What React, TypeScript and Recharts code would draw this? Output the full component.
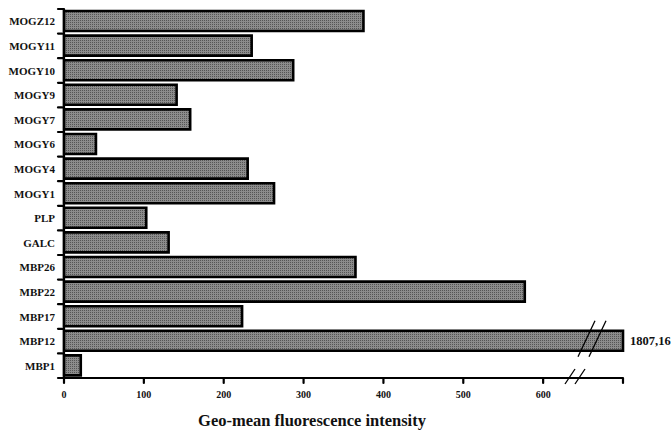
import React from "react";
import { BarChart, Bar, XAxis, YAxis, LabelList, Rectangle } from "recharts";

const categories = [
  "MOGZ12", "MOGY11", "MOGY10", "MOGY9", "MOGY7", "MOGY6", "MOGY4", "MOGY1",
  "PLP", "GALC", "MBP26", "MBP22", "MBP17", "MBP12", "MBP1",
];
const intensities = [375, 235, 287, 141, 158, 40, 230, 263, 103, 131, 365, 577, 223, 1807.16, 21];
const xTicks = [0, 100, 200, 300, 400, 500, 600, 700];
const xTickLabels = ["0", "100", "200", "300", "400", "500", "600", ""];
const AXIS_MAX = 700;

const data = categories.map((name, i) => ({
  name,
  value: intensities[i],
  shown: Math.min(intensities[i], AXIS_MAX),
  label: intensities[i] > AXIS_MAX ? intensities[i].toFixed(2).replace(".", ",").replace(/0$/, "") : "",
}));

const FONT = "'Liberation Serif', 'Times New Roman', serif";

const YTick = (props: any) => {
  const { x, y, payload, index, height } = props;
  const band = (height || 369) / categories.length;
  const top = y - band / 2;
  return (
    <g>
      <line x1={x - 6} y1={top} x2={x} y2={top} stroke="#000" strokeWidth={2.2} strokeLinecap="round" />
      {index === categories.length - 1 && (
        <line x1={x - 6} y1={y + band / 2} x2={x} y2={y + band / 2} stroke="#000" strokeWidth={2.2} strokeLinecap="round" />
      )}
      <text x={x - 9} y={y} textAnchor="end" dominantBaseline="central" fontFamily={FONT} fontWeight="bold" fontSize={11} fill="#111">
        {payload.value}
      </text>
    </g>
  );
};

const XTick = (props: any) => {
  const { x, y, payload, index } = props;
  const isEnd = payload.value === AXIS_MAX;
  return (
    <g>
      <line x1={x} y1={y} x2={x} y2={y + 5} stroke="#000" strokeWidth={2.2} strokeLinecap="round" />
      <text x={x} y={y + 16} textAnchor="middle" dominantBaseline="central" fontFamily={FONT} fontWeight="bold" fontSize={10} fill="#111">
        {xTickLabels[index] ?? payload.value}
      </text>
      {isEnd && (
        <g stroke="#000" strokeWidth={1.3}>
          <line x1={x - 58} y1={y + 6} x2={x - 48} y2={y - 9} />
          <line x1={x - 48} y1={y + 6} x2={x - 38} y2={y - 9} />
        </g>
      )}
    </g>
  );
};

const BarShape = (props: any) => {
  const { x, y, width, height, payload } = props;
  const broken = payload && payload.value > AXIS_MAX;
  const end = x + width;
  return (
    <g>
      <Rectangle x={x} y={y} width={width} height={height} fill="url(#dither)" stroke="#000" strokeWidth={2.6} />
      {broken && (
        <g stroke="#000" strokeWidth={1.3}>
          <line x1={end - 45} y1={y + height + 6} x2={end - 28} y2={y - 10} />
          <line x1={end - 34} y1={y + height + 6} x2={end - 17} y2={y - 10} />
        </g>
      )}
    </g>
  );
};

export default function App() {
  return (
    <div style={{ position: "absolute", left: 0, top: 0, width: 672, height: 432, background: "#fff" }}>
      <svg width={0} height={0} style={{ position: "absolute" }}>
        <defs>
          <pattern id="dither" width={2} height={2} patternUnits="userSpaceOnUse">
            <rect width={2} height={2} fill="#8c8c8c" />
            <rect width={1} height={1} fill="#555555" />
          </pattern>
        </defs>
      </svg>
      <BarChart
        width={672}
        height={432}
        data={data}
        layout="vertical"
        margin={{ top: 9, right: 49, bottom: 24, left: 0 }}
        barSize={20}
      >
        <XAxis
          type="number"
          dataKey="shown"
          domain={[0, AXIS_MAX]}
          ticks={xTicks}
          interval={0}
          height={30}
          tickSize={0}
          tickMargin={0}
          tick={<XTick />}
          axisLine={{ stroke: "#000", strokeWidth: 2.2 }}
          tickLine={false}
        />
        <YAxis
          type="category"
          dataKey="name"
          width={64}
          interval={0}
          tickSize={0}
          tickMargin={0}
          tick={<YTick />}
          axisLine={{ stroke: "#000", strokeWidth: 2.2 }}
          tickLine={false}
        />
        <Bar dataKey="shown" isAnimationActive={false} shape={<BarShape />}>
          <LabelList
            dataKey="label"
            position="right"
            offset={7}
            style={{ fontFamily: FONT, fontWeight: "bold", fontSize: 12.5, fill: "#111" }}
          />
        </Bar>
      </BarChart>
      <div
        style={{
          position: "absolute",
          left: 0,
          width: 624,
          top: 411,
          textAlign: "center",
          fontFamily: FONT,
          fontWeight: "bold",
          fontSize: 16.5,
          color: "#111",
          whiteSpace: "nowrap",
        }}
      >
        Geo-mean fluorescence intensity
      </div>
    </div>
  );
}
